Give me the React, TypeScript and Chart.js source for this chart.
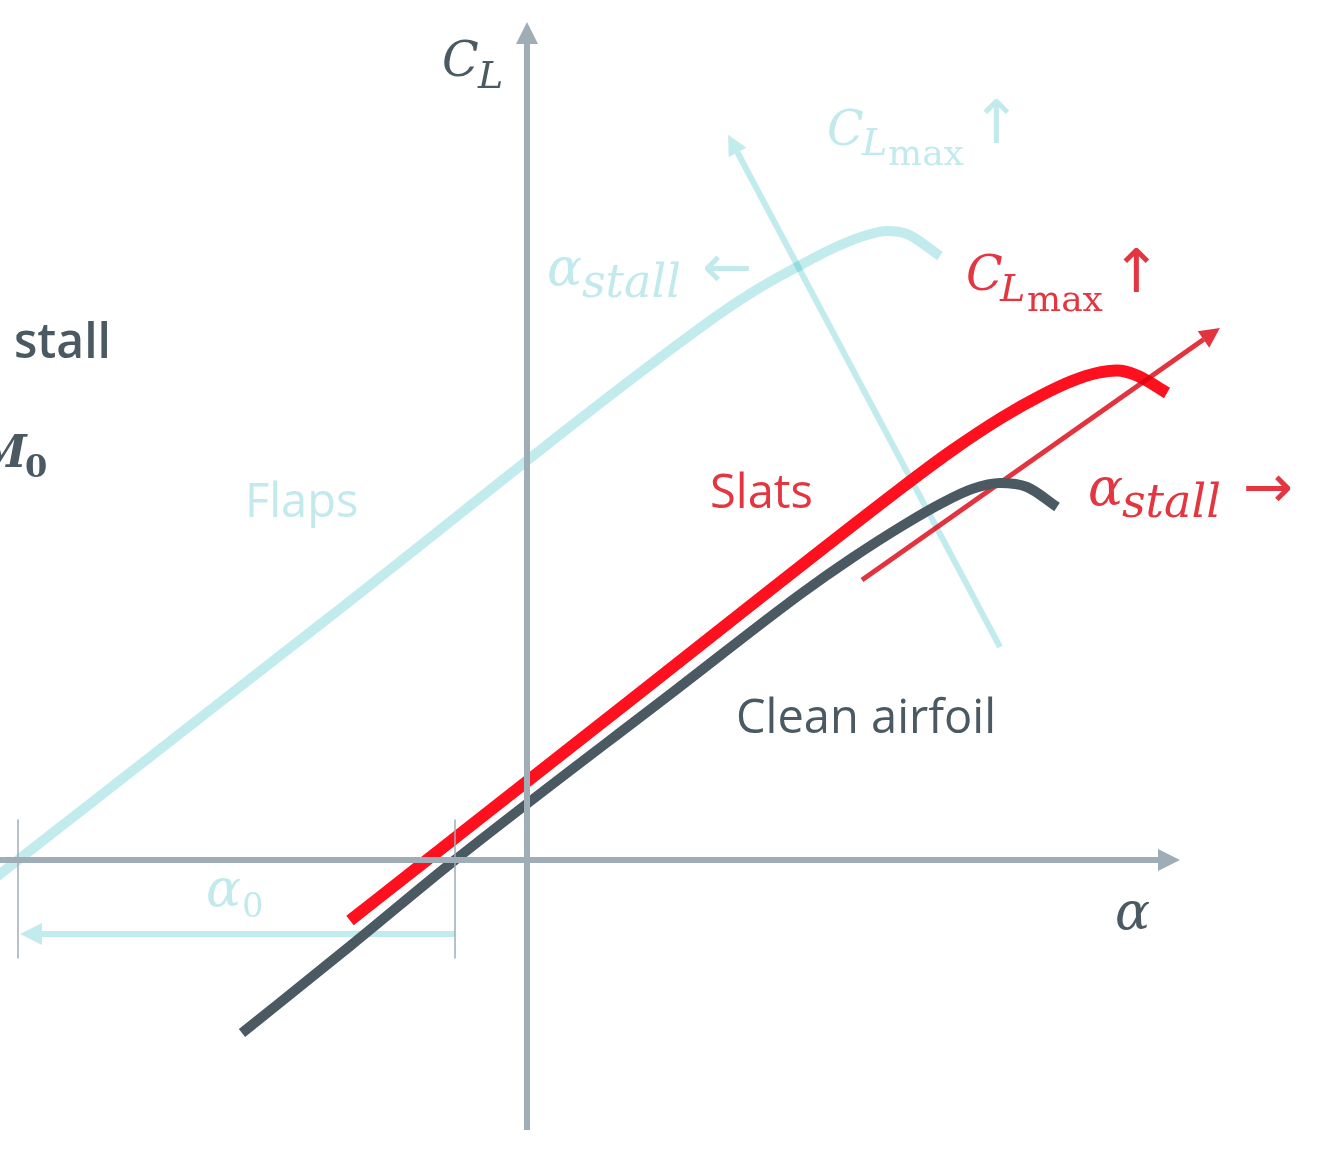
import { useEffect, useRef } from 'react';
import { Chart, registerables } from 'chart.js';

Chart.register(...registerables);

// ---- axis ranges (alpha in deg, CL) ----
const alphaRange = [-10.54, 16.14];
const clRange = [-0.592, 1.72];

// ---- lift curves ----
const alphaClean = [-5.7, -3.5, -1.44, 3.0, 5.5, 6.5, 7.5, 8.3, 8.9, 9.46, 10.0, 10.6];
const clClean = [-0.346, -0.169, 0, 0.342, 0.534, 0.604, 0.668, 0.714, 0.742, 0.754, 0.746, 0.706];

const alphaSlats = [-3.54, -2.0, 2.0, 7.5, 8.5, 9.5, 10.3, 10.9, 11.4, 11.8, 12.2, 12.8];
const clSlats = [-0.121, 0, 0.314, 0.745, 0.819, 0.885, 0.93, 0.958, 0.974, 0.979, 0.969, 0.934];

const alphaFlaps = [-10.74, -10.18, -4.0, 3.5, 4.5, 5.4, 6.2, 6.8, 7.2, 7.6, 8.26];
const clFlaps = [-0.044, 0, 0.482, 1.067, 1.135, 1.186, 1.227, 1.25, 1.258, 1.252, 1.208];

// ---- arrows (shaft start, shaft end; head drawn beyond end) ----
const alphaAxisA = [-10.6, 12.62];
const alphaAxisC = [0, 0];
const clAxisA = [0, 0];
const clAxisC = [-0.54, 1.632];
const flapsShiftA = [9.46, 4.21];
const flapsShiftC = [0.426, 1.415];
const slatsShiftA = [6.7, 13.53];
const slatsShiftC = [0.56, 1.041];
const alpha0A = [-1.44, -9.7];
const alpha0C = [-0.148, -0.148];

// ---- zero-lift angle marker ticks ----
const tickFlapsA = [-10.18, -10.18];
const tickCleanA = [-1.44, -1.44];
const tickC = [0.08, -0.196];

// ---- colours ----
const GRAY = '#9eadb6';
const DARK = '#4b5962';
const CYAN = 'rgba(0,170,180,0.24)';
const CYAN_TEXT = '#c2eaec';
const RED = '#ff101e';
const RED_SOFT = 'rgba(220,0,15,0.8)';
const RED_TEXT = '#e33641';

const SERIF = '"DejaVu Serif"';
const SANS = '"Open Sans"';
const ARROWFONT = '"DejaVu Sans"';

// ---- text labels ----
const labelText = ['C', 'L', 'C', 'L', 'max', '↑', 'α', 'stall', '←', 'C', 'L', 'max', '↑', 'α', 'stall', '→', 'stall', 'M', '0', 'Flaps', 'Slats', 'Clean airfoil', 'α', '0', 'α'];
const labelA = [-1.7, -0.98, 6.0, 6.7, 7.22, 8.88, 0.4, 1.1, 3.5, 8.78, 9.46, 10.0, 11.68, 11.22, 11.9, 14.32, -10.26, -10.98, -10.04, -5.64, 3.66, 4.18, -6.42, -5.7, 11.76];
const labelC = [1.568, 1.544, 1.43, 1.41, 1.39, 1.434, 1.15, 1.126, 1.146, 1.14, 1.118, 1.098, 1.136, 0.71, 0.686, 0.706, 1.004, 0.786, 0.766, 0.686, 0.704, 0.254, -0.092, -0.114, -0.138];
const labelFont = [
  `italic 48px ${SERIF}`, `italic 38px ${SERIF}`,
  `italic 48px ${SERIF}`, `italic 38px ${SERIF}`, `36px ${SERIF}`, `60px ${ARROWFONT}`,
  `italic 52px ${SERIF}`, `italic 46px ${SERIF}`, `60px ${ARROWFONT}`,
  `italic 48px ${SERIF}`, `italic 38px ${SERIF}`, `36px ${SERIF}`, `60px ${ARROWFONT}`,
  `italic 52px ${SERIF}`, `italic 46px ${SERIF}`, `60px ${ARROWFONT}`,
  `600 48px ${SANS}`, `bold italic 44px ${SERIF}`, `bold 32px ${SERIF}`,
  `47px ${SANS}`, `47px ${SANS}`, `47px ${SANS}`,
  `italic 52px ${SERIF}`, `34px ${SERIF}`, `italic 52px ${SERIF}`,
];
const labelColor = [
  DARK, DARK,
  CYAN_TEXT, CYAN_TEXT, CYAN_TEXT, CYAN_TEXT,
  CYAN_TEXT, CYAN_TEXT, CYAN_TEXT,
  RED_TEXT, RED_TEXT, RED_TEXT, RED_TEXT,
  RED_TEXT, RED_TEXT, RED_TEXT,
  DARK, DARK, DARK,
  CYAN_TEXT, RED_TEXT, DARK,
  CYAN_TEXT, CYAN_TEXT, DARK,
];

const pts = (a: number[], c: number[]) => a.map((v, i) => ({ x: v, y: c[i] }));

type Head = { idx: number; len: number; half: number; color: string };

const overlay = {
  id: 'overlay',
  afterDatasetsDraw(chart: any, _args: any, opts: any) {
    const { ctx } = chart;
    const xs = chart.scales.x;
    const ys = chart.scales.y;
    ctx.save();
    (opts.heads as Head[]).forEach((h) => {
      const d = chart.data.datasets[h.idx].data as { x: number; y: number }[];
      const p0 = d[d.length - 2];
      const p1 = d[d.length - 1];
      const x0 = xs.getPixelForValue(p0.x), y0 = ys.getPixelForValue(p0.y);
      const x1 = xs.getPixelForValue(p1.x), y1 = ys.getPixelForValue(p1.y);
      const L = Math.hypot(x1 - x0, y1 - y0);
      const ux = (x1 - x0) / L, uy = (y1 - y0) / L;
      const tx = x1 + ux * h.len, ty = y1 + uy * h.len;
      ctx.beginPath();
      ctx.moveTo(tx, ty);
      ctx.lineTo(x1 - uy * h.half, y1 + ux * h.half);
      ctx.lineTo(x1 + uy * h.half, y1 - ux * h.half);
      ctx.closePath();
      ctx.fillStyle = h.color;
      ctx.fill();
    });
    ctx.textAlign = 'left';
    ctx.textBaseline = 'alphabetic';
    labelText.forEach((t, i) => {
      ctx.font = labelFont[i];
      ctx.fillStyle = labelColor[i];
      ctx.fillText(t, xs.getPixelForValue(labelA[i]), ys.getPixelForValue(labelC[i]));
    });
    ctx.restore();
  },
};

export default function App() {
  const ref = useRef<HTMLCanvasElement>(null);
  useEffect(() => {
    if (!ref.current) return;
    const line = (data: any, color: string, width: number, order: number, curve = false) => ({
      data,
      borderColor: color,
      backgroundColor: color,
      borderWidth: width,
      pointRadius: 0,
      pointHoverRadius: 0,
      fill: false,
      borderCapStyle: 'butt',
      borderJoinStyle: 'round',
      tension: 0,
      cubicInterpolationMode: curve ? 'monotone' : 'default',
      order,
    });
    const datasets: any[] = [
      line(pts(alphaAxisA, alphaAxisC), GRAY, 6, 0), // 0
      line(pts(clAxisA, clAxisC), GRAY, 6, 0), // 1
      line(pts(tickFlapsA, tickC), GRAY, 1.5, 1), // 2
      line(pts(tickCleanA, tickC), GRAY, 1.5, 1), // 3
      line(pts(alphaClean, clClean), DARK, 10, 2, true), // 4
      line(pts(slatsShiftA, slatsShiftC), RED_SOFT, 5, 3), // 5
      line(pts(alphaSlats, clSlats), RED, 12, 4, true), // 6
      line(pts(flapsShiftA, flapsShiftC), CYAN, 6, 5), // 7
      line(pts(alpha0A, alpha0C), CYAN, 6, 6), // 8
      line(pts(alphaFlaps, clFlaps), CYAN, 10, 7, true), // 9
    ];
    const heads: Head[] = [
      { idx: 0, len: 22, half: 11, color: GRAY },
      { idx: 1, len: 22, half: 11, color: GRAY },
      { idx: 5, len: 20, half: 10, color: RED_SOFT },
      { idx: 7, len: 20, half: 10, color: CYAN },
      { idx: 8, len: 22, half: 11, color: CYAN },
    ];
    const chart = new Chart(ref.current, {
      type: 'line',
      data: { datasets },
      options: {
        animation: false,
        responsive: true,
        maintainAspectRatio: false,
        layout: { padding: 0 },
        events: [],
        scales: {
          x: { type: 'linear', min: alphaRange[0], max: alphaRange[1], display: false },
          y: { type: 'linear', min: clRange[0], max: clRange[1], display: false },
        },
        plugins: {
          legend: { display: false },
          tooltip: { enabled: false },
          overlay: { heads },
        } as any,
      },
      plugins: [overlay],
    });
    return () => chart.destroy();
  }, []);
  return (
    <div style={{ position: 'absolute', left: 0, top: 0, width: 1334, height: 1156, background: '#fff' }}>
      <canvas ref={ref} />
    </div>
  );
}
